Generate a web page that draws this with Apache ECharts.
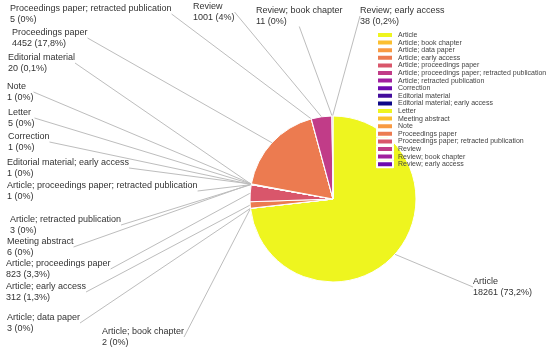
<!DOCTYPE html>
<html>
<head>
<meta charset="utf-8">
<script src="https://cdn.jsdelivr.net/npm/echarts@6/dist/echarts.min.js"></script>
<style>html,body{margin:0;padding:0;background:#fff}#c{width:550px;height:352px}</style>
</head>
<body>
<div id="c"></div>
<script>
var categories = [
  'Article', 'Article; book chapter', 'Article; data paper', 'Article; early access',
  'Article; proceedings paper', 'Article; proceedings paper; retracted publication',
  'Article; retracted publication', 'Correction', 'Editorial material',
  'Editorial material; early access', 'Letter', 'Meeting abstract', 'Note',
  'Proceedings paper', 'Proceedings paper; retracted publication', 'Review',
  'Review; book chapter', 'Review; early access'
];
var counts = [18261, 2, 3, 312, 823, 1, 3, 1, 20, 1, 5, 6, 1, 4452, 5, 1001, 11, 38];

// layout-only: label anchor positions (left, vertical middle)
var labelPos = [
  [473, 287], [102, 337], [7, 323], [6, 292], [6, 269], [7, 191], [10, 225],
  [8, 142], [8, 63], [7, 168], [8, 118], [7, 247], [7, 92], [12, 38], [10, 14],
  [193, 12], [256, 16], [360, 16]
];
var palette = ['#eef51f', '#fbbf30', '#f89a42', '#ec7b50', '#d9566b', '#c13c88',
               '#a11f9f', '#6c0aaf', '#430d9c', '#0d0887'];

var total = counts.reduce(function (a, b) { return a + b; }, 0);
var data = categories.map(function (n, i) {
  return { name: n, value: counts[i], itemStyle: { color: palette[i % palette.length] } };
});

var chart = echarts.init(document.getElementById('c'));
chart.setOption({
  animation: false,
  backgroundColor: '#fff',
  legend: {
    orient: 'vertical',
    left: 376,
    top: 31,
    padding: 0,
    icon: 'rect',
    itemWidth: 16,
    itemHeight: 6,
    itemGap: -0.4,
    textStyle: { fontFamily: 'Liberation Sans', fontSize: 7, lineHeight: 7.6, color: '#444' },
    data: categories
  },
  series: [{
    type: 'pie',
    center: [333, 199],
    radius: 83,
    startAngle: 90,
    clockwise: true,
    avoidLabelOverlap: false,
    itemStyle: { borderColor: '#fff', borderWidth: 1 },
    label: {
      show: true,
      position: 'outside',
      fontFamily: 'Liberation Sans',
      fontSize: 9,
      lineHeight: 10.5,
      color: '#333',
      formatter: function (p) {
        var pct = Math.round(p.value / total * 1000) / 10;
        return p.name + '\n' + p.value + ' (' + String(pct).replace('.', ',') + '%)';
      }
    },
    labelLine: { show: true, length: 10, length2: 0, lineStyle: { color: '#bdbdbd', width: 1 } },
    labelLayout: function (params) {
      var pos = labelPos[params.dataIndex];
      return { x: pos[0], y: pos[1], align: 'left', verticalAlign: 'middle' };
    },
    data: data
  }]
});
</script>
</body>
</html>
